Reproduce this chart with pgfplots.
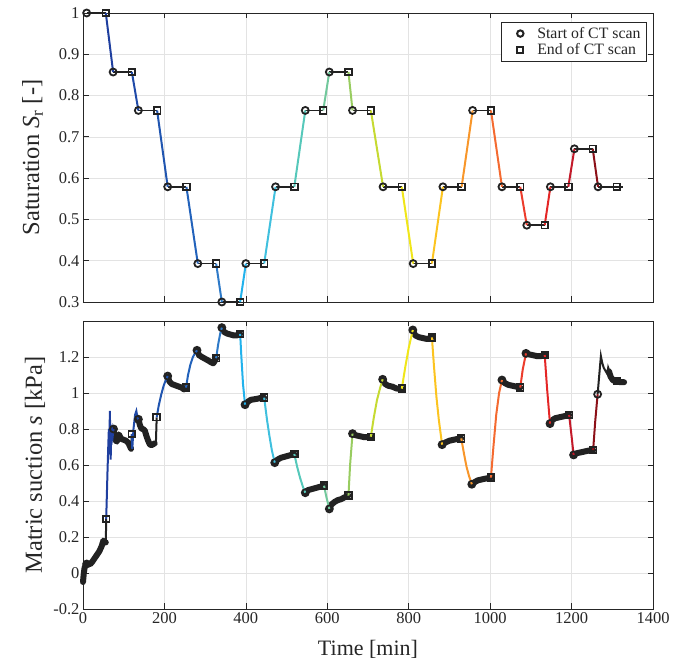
\documentclass[border=0pt]{standalone}
\usepackage{pgfplots}
\pgfplotsset{compat=1.18}
\usepackage{fontspec}
\setmainfont{Liberation Serif}
\definecolor{axisgray}{HTML}{262626}
\definecolor{scanblk}{HTML}{222222}
\definecolor{gridc}{HTML}{E3E3E3}
\definecolor{c1}{HTML}{1F3F9F}
\definecolor{c2}{HTML}{1F4AA8}
\definecolor{c3}{HTML}{2055B0}
\definecolor{c4}{HTML}{2262BB}
\definecolor{c5}{HTML}{2E7AC8}
\definecolor{c6}{HTML}{22B2EC}
\definecolor{c7}{HTML}{40C0DE}
\definecolor{c8}{HTML}{56C8BA}
\definecolor{c9}{HTML}{72C89C}
\definecolor{c10}{HTML}{98CC60}
\definecolor{c11}{HTML}{C6DA32}
\definecolor{c12}{HTML}{F0E619}
\definecolor{c13}{HTML}{FCC420}
\definecolor{c14}{HTML}{F8962A}
\definecolor{c15}{HTML}{F46A30}
\definecolor{c16}{HTML}{EC3C2C}
\definecolor{c17}{HTML}{E42626}
\definecolor{c18}{HTML}{C41A2A}
\definecolor{c19}{HTML}{8C1018}
\pgfplotsset{
  myaxis/.style={
    scale only axis, width=570pt,
    xmin=0, xmax=1400, xtick={0,200,...,1400},
    grid=major, major grid style={draw=gridc, line width=0.6pt},
    axis line style={draw=axisgray, line width=0.7pt},
    tick style={draw=axisgray, line width=0.7pt},
    tick align=inside, major tick length=5.5pt,
    xtick pos=both, ytick pos=both,
    ticklabel style={font=\fontsize{16.5}{18}\selectfont, text=axisgray},
    /pgf/number format/assume math mode=true,
    /pgf/number format/1000 sep={},
    every axis y label/.style={rotate=90, anchor=base, font=\fontsize{24.5}{26}\selectfont, text=axisgray},
    every axis x label/.style={anchor=base, font=\fontsize{22}{24}\selectfont, text=axisgray},
    clip=false,
  },
  segt/.style={line width=2pt, forget plot},
  segb/.style={line width=2pt, forget plot},
  startmk/.style={only marks, mark=o, mark size=3.5pt, mark options={draw=scanblk, line width=1.8pt}, forget plot},
  endmk/.style={only marks, mark=square, mark size=3.3pt, mark options={draw=scanblk, line width=1.8pt}, forget plot},
}
\begin{document}
\begin{tikzpicture}
\useasboundingbox (0,0) rectangle (686pt,663pt);
% ---------------- top axis ----------------
\begin{axis}[myaxis, at={(83pt,361pt)}, anchor=south west, height=289pt,
  ymin=0.3, ymax=1, ytick={0.3,0.4,0.5,0.6,0.7,0.8,0.9,1},
  xticklabels={},
  ylabel={Saturation \textit{S}\textsubscript{r} [-]},
  ylabel style={at={(axis description cs:-0.077,0.5)}},
  legend style={at={(axis description cs:0.989,0.969)}, anchor=north east,
    draw=axisgray, line width=0.6pt, font=\fontsize{15.8}{17}\selectfont, text=axisgray,
    legend cell align=left, row sep=0pt, inner xsep=4pt, inner ysep=3pt},
  legend image code/.code={\path[draw=none,fill=none] (0pt,-4pt) rectangle (30pt,4pt); \draw[#1] plot coordinates {(15pt,0pt)};},
]
\addlegendimage{only marks, mark=o, mark size=3.2pt, mark options={draw=scanblk, line width=2pt}}
\addlegendentry{Start of CT scan}
\addlegendimage{only marks, mark=square, mark size=3.1pt, mark options={draw=scanblk, line width=2pt}}
\addlegendentry{End of CT scan}
% scans (black)
\addplot[draw=scanblk, line width=1.7pt, unbounded coords=jump, forget plot] coordinates {
(9,1)(56,1)(56,nan)
(74,0.857)(120,0.857)(120,nan)
(136,0.764)(182,0.764)(182,nan)
(208,0.579)(254,0.579)(254,nan)
(282,0.393)(327,0.393)(327,nan)
(341,0.3)(386,0.3)(386,nan)
(400,0.393)(445,0.393)(445,nan)
(473,0.579)(519,0.579)(519,nan)
(546,0.764)(590,0.764)(590,nan)
(605,0.857)(652,0.857)(652,nan)
(662,0.764)(707,0.764)(707,nan)
(737,0.579)(783,0.579)(783,nan)
(811,0.393)(857,0.393)(857,nan)
(884,0.579)(930,0.579)(930,nan)
(957,0.764)(1002,0.764)(1002,nan)
(1029,0.579)(1074,0.579)(1074,nan)
(1090,0.486)(1134,0.486)(1134,nan)
(1148,0.579)(1192,0.579)(1192,nan)
(1207,0.671)(1252,0.671)(1252,nan)
(1265,0.579)(1327,0.579)
};
\addplot[startmk] coordinates {
(9,1)(74,0.857)(136,0.764)(208,0.579)(282,0.393)(341,0.3)(400,0.393)(473,0.579)(546,0.764)(605,0.857)
(662,0.764)(737,0.579)(811,0.393)(884,0.579)(957,0.764)(1029,0.579)(1090,0.486)(1148,0.579)(1207,0.671)(1265,0.579)};
\addplot[endmk] coordinates {
(56,1)(120,0.857)(182,0.764)(254,0.579)(327,0.393)(386,0.3)(445,0.393)(519,0.579)(590,0.764)(652,0.857)
(707,0.764)(783,0.579)(857,0.393)(930,0.579)(1002,0.764)(1074,0.579)(1134,0.486)(1192,0.579)(1252,0.671)(1311,0.579)};
% transitions (coloured)
\addplot[segt, c1] coordinates {(56,1)(74,0.857)};
\addplot[segt, c2] coordinates {(120,0.857)(136,0.764)};
\addplot[segt, c3] coordinates {(182,0.764)(208,0.579)};
\addplot[segt, c4] coordinates {(254,0.579)(282,0.393)};
\addplot[segt, c5] coordinates {(327,0.393)(341,0.3)};
\addplot[segt, c6] coordinates {(386,0.3)(400,0.393)};
\addplot[segt, c7] coordinates {(445,0.393)(473,0.579)};
\addplot[segt, c8] coordinates {(519,0.579)(546,0.764)};
\addplot[segt, c9] coordinates {(590,0.764)(605,0.857)};
\addplot[segt, c10] coordinates {(652,0.857)(662,0.764)};
\addplot[segt, c11] coordinates {(707,0.764)(737,0.579)};
\addplot[segt, c12] coordinates {(783,0.579)(811,0.393)};
\addplot[segt, c13] coordinates {(857,0.393)(884,0.579)};
\addplot[segt, c14] coordinates {(930,0.579)(957,0.764)};
\addplot[segt, c15] coordinates {(1002,0.764)(1029,0.579)};
\addplot[segt, c16] coordinates {(1074,0.579)(1090,0.486)};
\addplot[segt, c17] coordinates {(1134,0.486)(1148,0.579)};
\addplot[segt, c18] coordinates {(1192,0.579)(1207,0.671)};
\addplot[segt, c19] coordinates {(1252,0.671)(1265,0.579)};
\end{axis}
% ---------------- bottom axis ----------------
\begin{axis}[myaxis, at={(83pt,54pt)}, anchor=south west, height=288pt,
  ymin=-0.2, ymax=1.4, ytick={-0.2,0,0.2,0.4,0.6,0.8,1,1.2},
  ylabel={Matric suction \textit{s} [kPa]},
  ylabel style={at={(axis description cs:-0.072,0.5)}},
  xlabel={Time [min]},
  xlabel style={at={(axis description cs:0.5,-0.163)}},
]
% scans (thick black)
\addplot[draw=scanblk, line width=6pt, line cap=round, line join=round, unbounded coords=jump, forget plot] coordinates {
(0,-0.05)(2,0.0)(4,0.03)(8,0.05)(12,0.05)(18,0.05)(22,0.06)(28,0.08)(34,0.10)(40,0.12)(46,0.15)(50,0.18)(54,0.17)(56,0.17)(56,nan)
(75,0.80)(79,0.74)(83,0.73)(88,0.77)(94,0.745)(100,0.74)(106,0.735)(112,0.72)(116,0.70)(118,0.69)(118,nan)
(136,0.854)(140,0.82)(144,0.80)(148,0.80)(152,0.79)(156,0.76)(160,0.735)(164,0.715)(168,0.71)(172,0.715)(176,0.72)(176,nan)
(208,1.094)(212,1.065)(218,1.05)(224,1.045)(230,1.04)(236,1.035)(242,1.03)(248,1.02)(253,1.03)(253,nan)
(280,1.237)(285,1.21)(292,1.20)(300,1.19)(308,1.18)(315,1.17)(320,1.165)(324,1.18)(327,1.193)(327,nan)
(341,1.363)(346,1.34)(354,1.33)(362,1.325)(370,1.32)(378,1.32)(386,1.328)(386,nan)
(398,0.935)(404,0.95)(412,0.962)(420,0.965)(428,0.968)(436,0.972)(445,0.974)(445,nan)
(471,0.613)(478,0.63)(486,0.64)(494,0.645)(502,0.65)(510,0.655)(519,0.661)(519,nan)
(546,0.446)(552,0.46)(560,0.465)(568,0.47)(576,0.475)(584,0.48)(592,0.485)(592,nan)
(605,0.356)(610,0.38)(618,0.395)(626,0.405)(634,0.41)(642,0.42)(652,0.43)(652,nan)
(662,0.774)(670,0.765)(680,0.76)(690,0.755)(700,0.755)(707,0.757)(707,nan)
(736,1.076)(742,1.05)(750,1.04)(760,1.035)(770,1.025)(783,1.024)(783,nan)
(810,1.35)(816,1.32)(825,1.31)(835,1.305)(845,1.30)(857,1.309)(857,nan)
(882,0.713)(890,0.725)(900,0.735)(910,0.74)(920,0.745)(929,0.748)(929,nan)
(955,0.493)(962,0.505)(970,0.515)(980,0.52)(990,0.525)(1002,0.53)(1002,nan)
(1029,1.072)(1036,1.055)(1045,1.045)(1055,1.04)(1065,1.035)(1074,1.03)(1074,nan)
(1088,1.22)(1095,1.215)(1105,1.21)(1115,1.205)(1125,1.205)(1134,1.211)(1134,nan)
(1147,0.83)(1153,0.85)(1160,0.86)(1170,0.865)(1180,0.87)(1194,0.878)(1194,nan)
(1205,0.656)(1212,0.665)(1222,0.67)(1232,0.675)(1242,0.68)(1253,0.683)(1253,nan)
(1292,1.12)(1296,1.09)(1302,1.07)(1310,1.065)(1320,1.06)(1329,1.06)
};
% thin black connections within scans
\addplot[draw=scanblk, line width=2pt, unbounded coords=jump, forget plot] coordinates {
(56,0.17)(57,0.30)(57,nan)
(118,0.69)(120,0.772)(120,nan)
(176,0.72)(179,0.72)(181,0.865)(181,nan)
(1264,0.993)(1268,1.10)(1272,1.205)(1275,1.17)(1279,1.14)(1284,1.12)(1288,1.105)(1290,1.14)(1293,1.12)(1296,1.09)
};
\addplot[startmk] coordinates {
(9,0.05)(75,0.80)(136,0.854)(208,1.094)(280,1.237)(341,1.363)(398,0.935)(471,0.613)(546,0.446)(605,0.356)
(662,0.774)(736,1.076)(810,1.35)(882,0.713)(955,0.493)(1029,1.072)(1088,1.22)(1147,0.83)(1205,0.656)(1264,0.993)};
\addplot[endmk] coordinates {
(57,0.30)(120,0.772)(181,0.865)(253,1.03)(327,1.193)(386,1.328)(445,0.974)(519,0.661)(592,0.485)(652,0.43)
(707,0.757)(783,1.024)(857,1.309)(929,0.748)(1002,0.53)(1074,1.03)(1134,1.211)(1194,0.878)(1253,0.683)(1311,1.065)};
% transitions (coloured)
\addplot[segb, c1] coordinates {(57,0.30)(60,0.55)(62,0.70)(63.5,0.80)(64.5,0.66)(66,0.90)(67,0.74)(68,0.63)(69,0.78)(71,0.80)(73,0.76)(75,0.80)};
\addplot[segb, c2] coordinates {(120,0.772)(121,0.69)(124,0.80)(128,0.88)(131,0.90)(134,0.86)(136,0.854)};
\addplot[segb, c3] coordinates {(181,0.865)(186,0.93)(192,0.99)(198,1.04)(203,1.07)(208,1.094)};
\addplot[segb, c4] coordinates {(253,1.03)(258,1.10)(264,1.16)(270,1.20)(275,1.22)(280,1.237)};
\addplot[segb, c5] coordinates {(327,1.193)(332,1.27)(337,1.33)(341,1.363)};
\addplot[segb, c6] coordinates {(386,1.328)(389,1.20)(393,1.05)(398,0.935)};
\addplot[segb, c7] coordinates {(445,0.974)(452,0.85)(458,0.76)(464,0.68)(471,0.613)};
\addplot[segb, c8] coordinates {(519,0.661)(526,0.59)(533,0.53)(540,0.48)(546,0.446)};
\addplot[segb, c9] coordinates {(592,0.485)(598,0.42)(605,0.356)};
\addplot[segb, c10] coordinates {(652,0.43)(656,0.60)(662,0.774)};
\addplot[segb, c11] coordinates {(707,0.757)(714,0.86)(722,0.96)(730,1.03)(736,1.076)};
\addplot[segb, c12] coordinates {(783,1.024)(792,1.15)(800,1.25)(806,1.31)(810,1.35)};
\addplot[segb, c13] coordinates {(857,1.309)(862,1.15)(868,0.98)(874,0.85)(882,0.713)};
\addplot[segb, c14] coordinates {(929,0.748)(936,0.66)(942,0.59)(948,0.54)(955,0.493)};
\addplot[segb, c15] coordinates {(1002,0.53)(1008,0.70)(1015,0.88)(1022,1.00)(1029,1.072)};
\addplot[segb, c16] coordinates {(1074,1.03)(1080,1.13)(1088,1.22)};
\addplot[segb, c17] coordinates {(1134,1.211)(1140,1.02)(1147,0.83)};
\addplot[segb, c18] coordinates {(1194,0.878)(1200,0.76)(1205,0.656)};
\addplot[segb, c19] coordinates {(1253,0.683)(1258,0.84)(1264,0.993)};
\end{axis}
\end{tikzpicture}
\end{document}
